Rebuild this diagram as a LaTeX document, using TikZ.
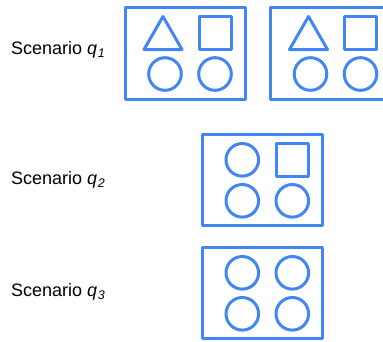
\documentclass[tikz,border=0pt]{standalone}
\usepackage{fontspec}
\setmainfont{Liberation Sans}
\definecolor{shapeblue}{RGB}{66,133,244}
\newcommand{\qsub}[1]{\textit{q}\kern0.5pt\raisebox{-3.5pt}{\fontsize{12.5}{14}\selectfont\textit{#1}}}
\tikzset{
  outline/.style={draw=shapeblue, line width=3pt, line join=round},
  label/.style={anchor=base west, inner sep=0pt, font=\fontsize{18}{21}\selectfont},
  pics/frame/.style={code={\draw[outline] (0,0) rectangle (120,91.5);}},
  pics/tri/.style={code={\draw[outline] (19,42) -- (38,9) -- (57,42) -- cycle;}},
  pics/sq/.style={code={\draw[outline] (74,9) rectangle (106,42);}},
  pics/circTL/.style={code={\draw[outline] (40,25.5) circle (16.3);}},
  pics/circTR/.style={code={\draw[outline] (90,25.5) circle (16.3);}},
  pics/circBL/.style={code={\draw[outline] (40,66.5) circle (16.3);}},
  pics/circBR/.style={code={\draw[outline] (90,66.5) circle (16.3);}},
}
\begin{document}
\begin{tikzpicture}[x=1pt, y=-1pt]
  \useasboundingbox (0,0) rectangle (383,341);
  % row labels
  \node[label] (l1) at (11,54) {Scenario \qsub{1}};
  \node[label] (l2) at (11,184) {Scenario \qsub{2}};
  \node[label] (l3) at (11,296) {Scenario \qsub{3}};
  % scenario q1: two panels
  \pic at (125,7.5) {frame}; \pic at (125,7.5) {tri}; \pic at (125,7.5) {sq};
  \pic at (125,7.5) {circBL}; \pic at (125,7.5) {circBR};
  \pic at (270.5,7.5) {frame}; \pic at (270.5,7.5) {tri}; \pic at (270.5,7.5) {sq};
  \pic at (270.5,7.5) {circBL}; \pic at (270.5,7.5) {circBR};
  % scenario q2
  \pic at (202.3,134.3) {frame}; \pic at (202.3,134.3) {circTL}; \pic at (202.3,134.3) {sq};
  \pic at (202.3,134.3) {circBL}; \pic at (202.3,134.3) {circBR};
  % scenario q3
  \pic at (202.3,247.3) {frame}; \pic at (202.3,247.3) {circTL}; \pic at (202.3,247.3) {circTR};
  \pic at (202.3,247.3) {circBL}; \pic at (202.3,247.3) {circBR};
\end{tikzpicture}
\end{document}
